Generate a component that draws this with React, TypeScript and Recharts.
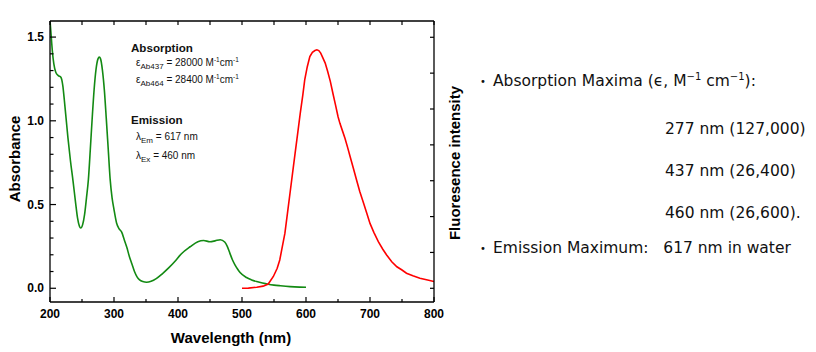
import { LineChart, Line, XAxis, YAxis } from 'recharts';

// absorption spectrum (absorbance)
const absWavelengths = [
  200, 201.6, 203.6, 206, 209, 213, 217, 220, 222.5, 224.5, 228, 232, 236, 240, 243, 246, 248, 251, 254, 257,
  260, 263, 266, 269, 272, 275, 277, 279, 282, 285, 288, 291, 294, 297, 300, 304, 308, 312, 316, 320,
  324, 328, 332, 336, 340, 345, 351, 358, 366, 375, 385, 395, 405, 419, 431, 440, 450, 458, 466, 473,
  477, 481, 485, 489, 493, 497, 507, 515, 523, 532, 541, 550, 560, 575, 590, 600,
];
const absValues = [
  1.6, 1.52, 1.42, 1.34, 1.29, 1.27, 1.26, 1.21, 1.12, 1.04, 0.9, 0.76, 0.64, 0.51, 0.42, 0.37, 0.36, 0.38, 0.44, 0.54,
  0.65, 0.83, 1.02, 1.19, 1.31, 1.37, 1.38, 1.37, 1.3, 1.18, 1.01, 0.83, 0.65, 0.54, 0.47, 0.39, 0.355, 0.335, 0.29, 0.245,
  0.19, 0.145, 0.1, 0.068, 0.05, 0.04, 0.036, 0.042, 0.058, 0.085, 0.12, 0.16, 0.205, 0.248, 0.278, 0.285, 0.278, 0.283, 0.29, 0.276,
  0.25, 0.21, 0.17, 0.14, 0.115, 0.094, 0.064, 0.05, 0.04, 0.031, 0.024, 0.019, 0.015, 0.01, 0.007, 0.006,
];

// emission spectrum (fluorescence intensity, arb. units)
const emWavelengths = [
  500, 510, 523, 533, 541, 549, 555, 559, 563, 567, 571, 575, 579, 583, 587, 591, 595, 598, 602, 606,
  610, 614, 617, 620, 623, 626, 630, 634, 638, 642, 646, 650, 653, 657, 661, 665, 669, 674, 679, 684,
  690, 695, 700, 706, 713, 720, 726, 734, 742, 750, 757, 767, 778, 790, 800,
];
const emValues = [
  0, 0.5, 3, 6, 12, 33, 56, 79, 116, 153, 209, 265, 321, 377, 432, 488, 539, 581, 618, 646,
  658, 663, 665, 663, 656, 644, 628, 604, 577, 544, 512, 479, 460, 439, 418, 393, 367, 335, 302, 270,
  237, 209, 181, 156, 130, 109, 93, 74, 60, 51, 42, 35, 28, 23, 19,
];

const xTicks = [200, 250, 300, 350, 400, 450, 500, 550, 600, 650, 700, 750, 800];
const absTicks = [0, 0.1, 0.2, 0.3, 0.4, 0.5, 0.6, 0.7, 0.8, 0.9, 1.0, 1.1, 1.2, 1.3, 1.4, 1.5];
const flTicks = [0, 100, 200, 300, 400, 500, 600, 700];

const absData = absWavelengths.map((wl, i) => ({ wl, abs: absValues[i] }));
const emData = emWavelengths.map((wl, i) => ({ wl, fl: emValues[i] }));

const tickFont = { fontFamily: 'Liberation Sans, Arial, sans-serif', fontWeight: 700, fontSize: 12, fill: '#000' };

const BottomTick = (props: any) => {
  const { x, y, payload } = props;
  const major = payload.value % 100 === 0;
  return (
    <g>
      <line x1={x} x2={x} y1={y} y2={y - (major ? 5 : 3)} stroke="#000" strokeWidth={1.2} />
      {major && (
        <text x={x} y={y + 16} textAnchor="middle" {...tickFont}>
          {payload.value}
        </text>
      )}
    </g>
  );
};

const TopTick = (props: any) => {
  const { x, y } = props;
  return <line x1={x} x2={x} y1={y} y2={y + 4} stroke="#000" strokeWidth={1.2} />;
};

const LeftTick = (props: any) => {
  const { x, y, payload } = props;
  const major = Math.abs(payload.value * 2 - Math.round(payload.value * 2)) < 1e-6;
  return (
    <g>
      <line x1={x} x2={x + (major ? 6 : 3.5)} y1={y} y2={y} stroke="#000" strokeWidth={1.2} />
      {major && (
        <text x={x - 6} y={y + 4} textAnchor="end" {...tickFont}>
          {payload.value.toFixed(1)}
        </text>
      )}
    </g>
  );
};

const RightTick = (props: any) => {
  const { x, y } = props;
  return <line x1={x} x2={x - 4} y1={y} y2={y} stroke="#000" strokeWidth={1.2} />;
};

const ann = { fontFamily: 'Liberation Sans, Arial, sans-serif', fontSize: 10, color: '#111', position: 'absolute' as const, whiteSpace: 'nowrap' as const, lineHeight: '12px' };
const annHead = { ...ann, fontSize: 11.6, fontWeight: 700, lineHeight: '14px' };
const sub = { fontSize: 8, position: 'relative' as const, top: 3 };
const sup = { fontSize: 6.5, position: 'relative' as const, top: -4 };

const side = { fontFamily: 'DejaVu Sans, sans-serif', fontSize: 15.5, color: '#111', position: 'absolute' as const, whiteSpace: 'pre' as const, lineHeight: '18px' };
const sideSup = { fontSize: 10, position: 'relative' as const, top: -6 };
const bullet = { ...side, fontSize: 10 };

const title = { fontFamily: 'Liberation Sans, Arial, sans-serif', fontWeight: 700, fontSize: 15, color: '#000', position: 'absolute' as const, whiteSpace: 'nowrap' as const, lineHeight: '18px' };

export default function App() {
  return (
    <div style={{ position: 'absolute', left: 0, top: 0, width: 816, height: 352, background: '#fff', overflow: 'hidden' }}>
      <LineChart width={816} height={352} margin={{ top: 20, right: 362, bottom: 20, left: 8 }}>
        <XAxis
          dataKey="wl"
          type="number"
          domain={[200, 800]}
          ticks={xTicks}
          interval={0}
          height={30}
          tickSize={0}
          tickMargin={0}
          tick={<BottomTick />}
          axisLine={{ stroke: '#000', strokeWidth: 1.3 }}
          allowDataOverflow
        />
        <XAxis
          xAxisId="top"
          orientation="top"
          dataKey="wl"
          type="number"
          domain={[200, 800]}
          ticks={xTicks}
          interval={0}
          height={1}
          tickSize={0}
          tickMargin={0}
          tick={<TopTick />}
          axisLine={{ stroke: '#000', strokeWidth: 1.3 }}
          allowDataOverflow
        />
        <YAxis
          yAxisId="left"
          type="number"
          domain={[-0.082, 1.596]}
          ticks={absTicks}
          interval={0}
          width={42}
          tickSize={0}
          tickMargin={0}
          tick={<LeftTick />}
          axisLine={{ stroke: '#000', strokeWidth: 1.3 }}
          allowDataOverflow
        />
        <YAxis
          yAxisId="right"
          orientation="right"
          type="number"
          domain={[-38.2, 745.4]}
          ticks={flTicks}
          interval={0}
          width={20}
          tickSize={0}
          tickMargin={0}
          tick={<RightTick />}
          axisLine={{ stroke: '#000', strokeWidth: 1.3 }}
          allowDataOverflow
        />
        <Line
          yAxisId="left"
          data={absData}
          dataKey="abs"
          type="monotone"
          stroke="#138a13"
          strokeWidth={1.6}
          dot={false}
          isAnimationActive={false}
        />
        <Line
          yAxisId="right"
          data={emData}
          dataKey="fl"
          type="linear"
          stroke="#ff0000"
          strokeWidth={1.6}
          dot={false}
          isAnimationActive={false}
        />
      </LineChart>

      {/* axis titles */}
      <div style={{ ...title, left: 15, top: 159, transform: 'translate(-50%, -50%) rotate(-90deg)' }}>Absorbance</div>
      <div style={{ ...title, left: 231, top: 338, transform: 'translate(-50%, -50%)' }}>Wavelength (nm)</div>
      <div style={{ ...title, left: 455, top: 163, transform: 'translate(-50%, -50%) rotate(-90deg)' }}>Fluoresence intensity</div>

      {/* in-plot annotation */}
      <div style={{ ...annHead, left: 131, top: 41 }}>Absorption</div>
      <div style={{ ...ann, left: 136, top: 57 }}>
        ε<span style={sub}>Ab437</span> = 28000 M<span style={sup}>-1</span>cm<span style={sup}>-1</span>
      </div>
      <div style={{ ...ann, left: 136, top: 74 }}>
        ε<span style={sub}>Ab464</span> = 28400 M<span style={sup}>-1</span>cm<span style={sup}>-1</span>
      </div>
      <div style={{ ...annHead, left: 131, top: 113 }}>Emission</div>
      <div style={{ ...ann, left: 136, top: 131 }}>
        λ<span style={sub}>Em</span> = 617 nm
      </div>
      <div style={{ ...ann, left: 136, top: 150 }}>
        λ<span style={sub}>Ex</span>{'  '}= 460 nm
      </div>

      {/* side notes */}
      <div style={{ ...bullet, left: 480, top: 73 }}>•</div>
      <div style={{ ...side, left: 493, top: 72 }}>
        Absorption Maxima (ϵ, M<span style={sideSup}>−1</span> cm<span style={sideSup}>−1</span>):
      </div>
      <div style={{ ...side, left: 665, top: 120 }}>277 nm (127,000)</div>
      <div style={{ ...side, left: 665, top: 162 }}>437 nm (26,400)</div>
      <div style={{ ...side, left: 665, top: 204 }}>460 nm (26,600).</div>
      <div style={{ ...bullet, left: 480, top: 240 }}>•</div>
      <div style={{ ...side, left: 493, top: 239 }}>{'Emission Maximum:   617 nm in water'}</div>
    </div>
  );
}
